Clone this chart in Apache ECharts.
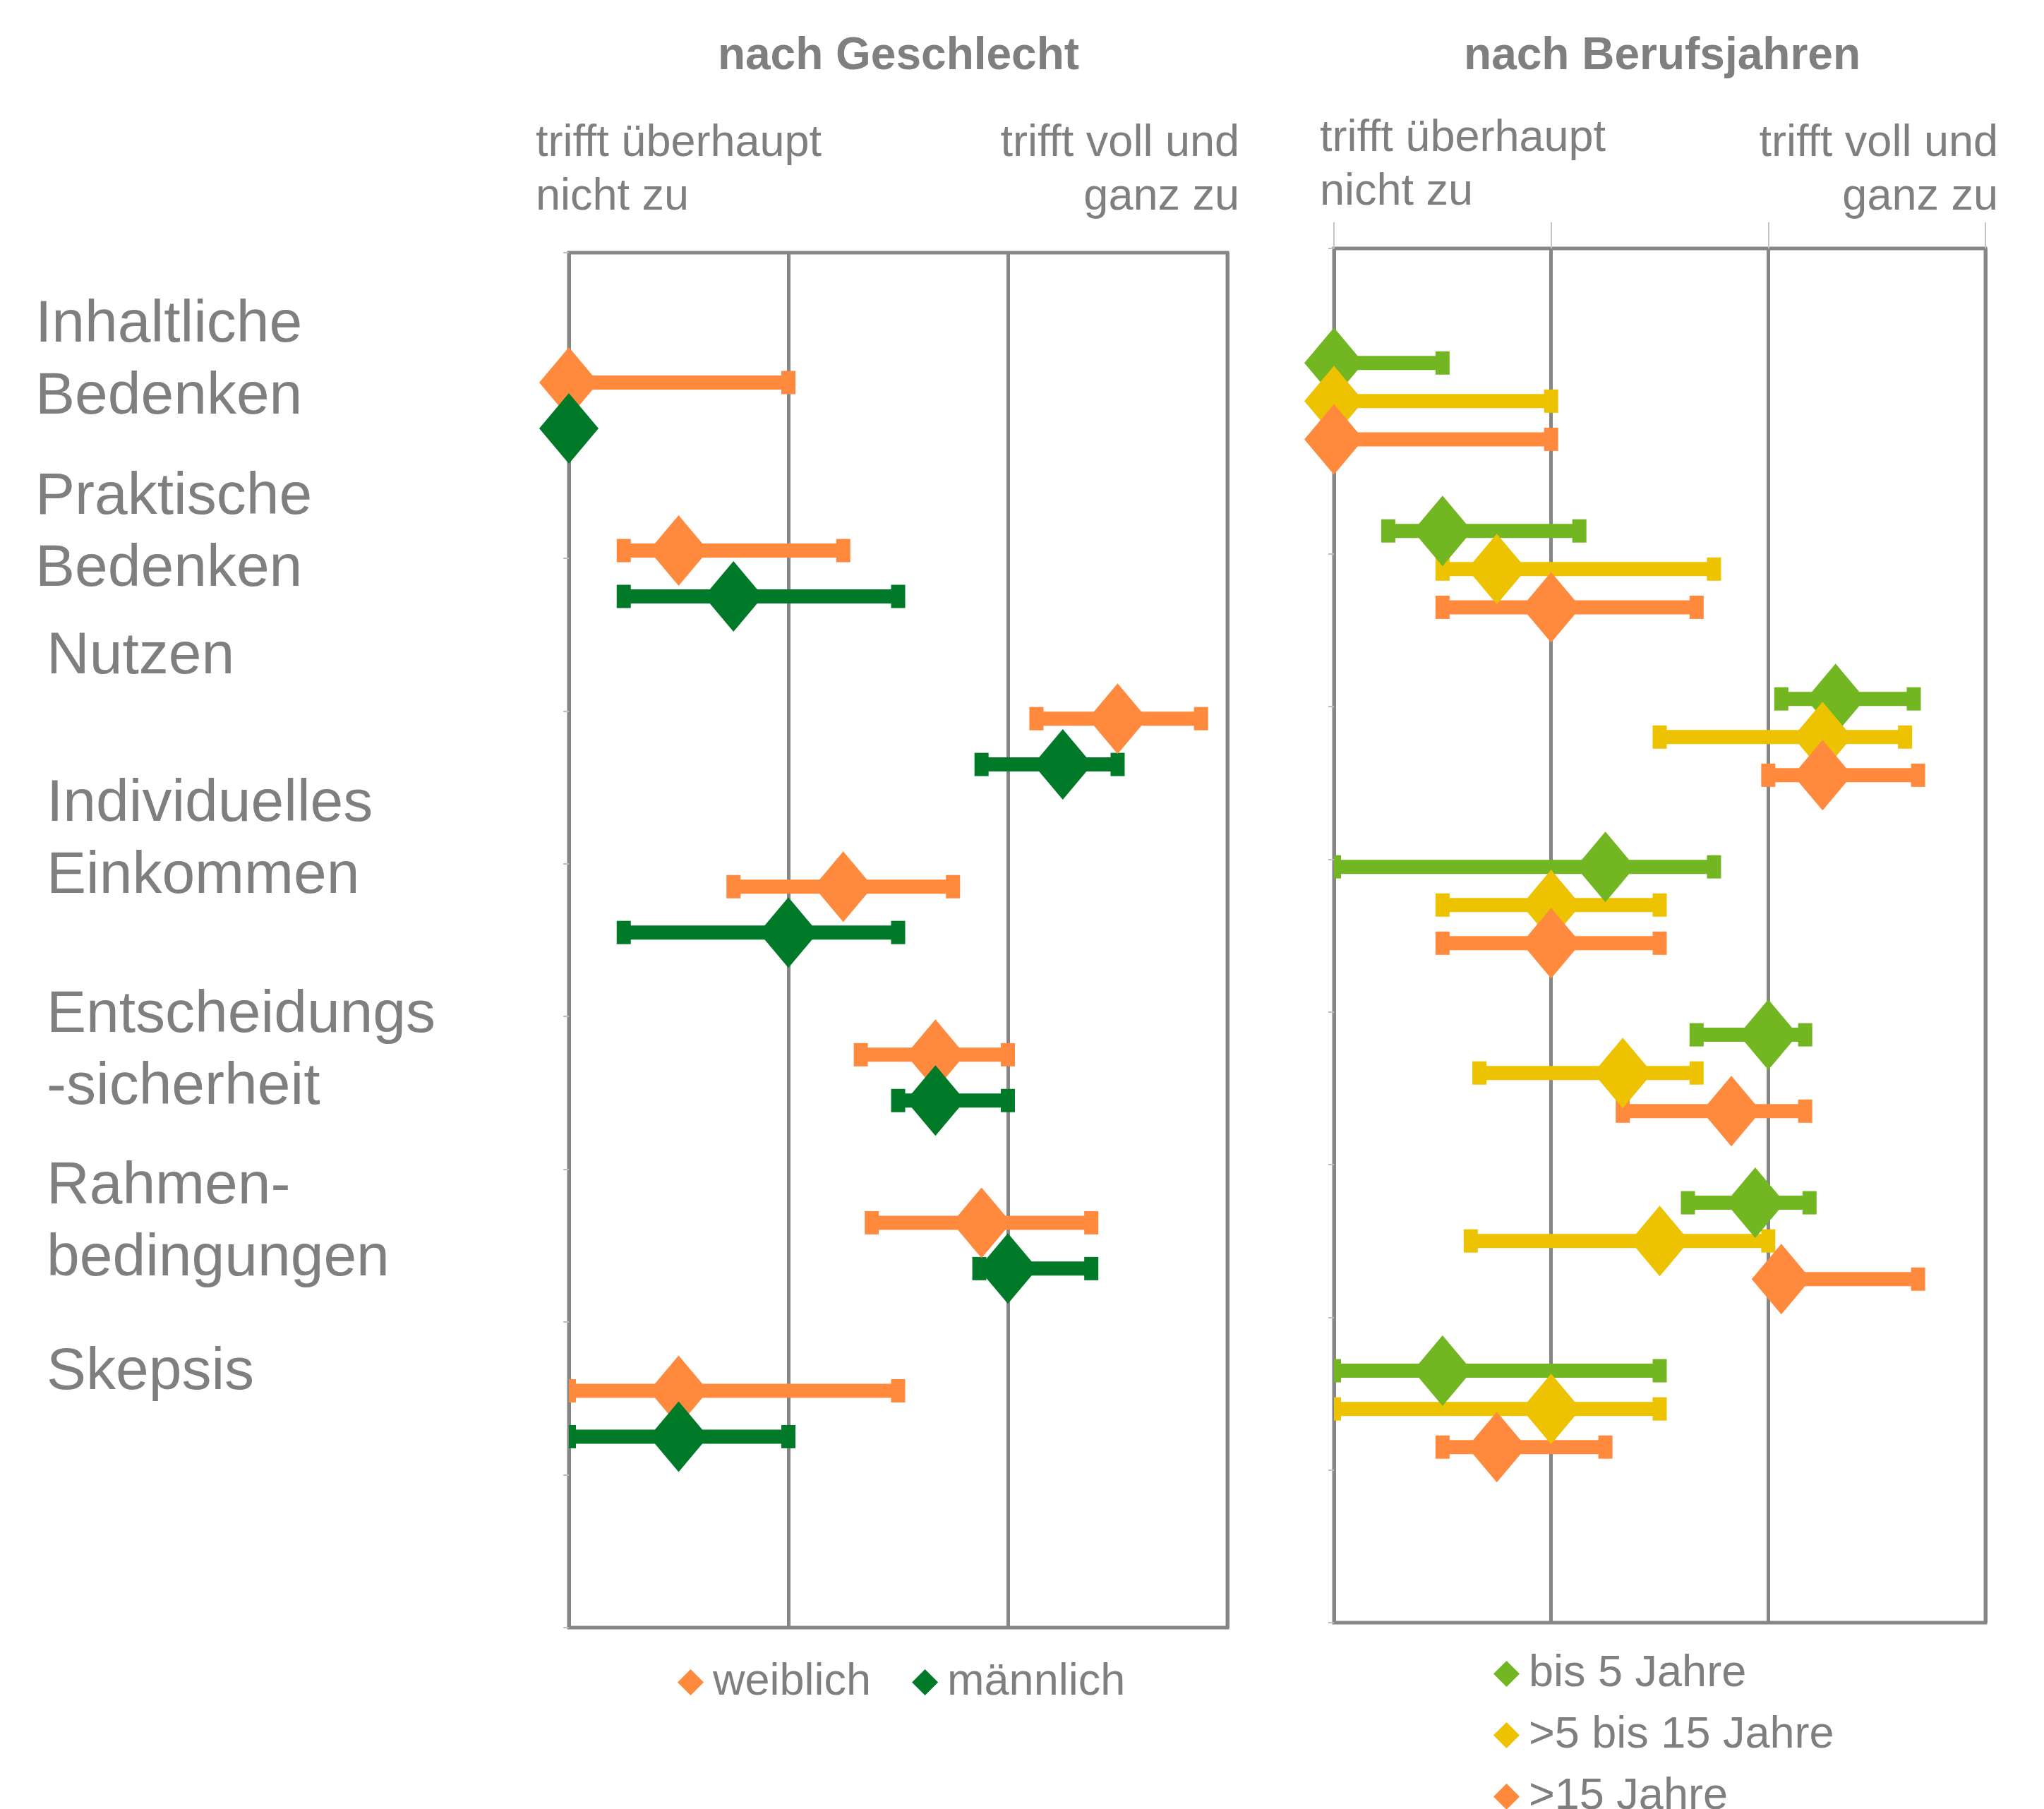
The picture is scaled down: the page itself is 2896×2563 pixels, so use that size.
<!DOCTYPE html>
<html><head><meta charset="utf-8">
<script src="https://cdn.jsdelivr.net/npm/echarts@6/dist/echarts.min.js"></script>
<style>html,body{margin:0;padding:0;background:#fff}#c{width:2896px;height:2563px}</style>
</head><body><div id="c"></div>
<script>
// ---------- data ----------
const categories = ['Inhaltliche\nBedenken','Praktische\nBedenken','Nutzen','Individuelles\nEinkommen','Entscheidungs\n-sicherheit','Rahmen-\nbedingungen','Skepsis'];
const panelTitles = ['nach Geschlecht','nach Berufsjahren'];
const scaleLow = 'trifft überhaupt\nnicht zu';
const scaleHigh = 'trifft voll und\nganz zu';
const scaleTicks = [1, 2, 3, 4];

const genderNames = ['weiblich','männlich'];
const weiblichMean = [1.00, 1.50, 3.50, 2.25, 2.67, 2.88, 1.50];
const weiblichLow  = [1.00, 1.25, 3.13, 1.75, 2.33, 2.38, 1.00];
const weiblichHigh = [2.00, 2.25, 3.88, 2.75, 3.00, 3.38, 2.50];
const maennlichMean = [1.00, 1.75, 3.25, 2.00, 2.67, 3.00, 1.50];
const maennlichLow  = [1.00, 1.25, 2.88, 1.25, 2.50, 2.87, 1.00];
const maennlichHigh = [1.00, 2.50, 3.50, 2.50, 3.00, 3.38, 2.00];

const berufNames = ['bis 5 Jahre','>5 bis 15 Jahre','>15 Jahre'];
const bis5Mean = [1.00, 1.50, 3.31, 2.25, 3.00, 2.94, 1.50];
const bis5Low  = [1.00, 1.25, 3.06, 1.00, 2.67, 2.63, 1.00];
const bis5High = [1.50, 2.13, 3.67, 2.75, 3.17, 3.19, 2.50];
const mid15Mean = [1.00, 1.75, 3.25, 2.00, 2.33, 2.50, 2.00];
const mid15Low  = [1.00, 1.50, 2.50, 1.50, 1.67, 1.63, 1.00];
const mid15High = [2.00, 2.75, 3.63, 2.50, 2.67, 3.00, 2.50];
const over15Mean = [1.00, 2.00, 3.25, 2.00, 2.83, 3.06, 1.75];
const over15Low  = [1.00, 1.50, 3.00, 1.50, 2.33, 3.06, 1.50];
const over15High = [2.00, 2.67, 3.69, 2.50, 3.17, 3.69, 2.25];

// ---------- styles ----------
const FONT = "'Liberation Sans', Arial, sans-serif";
const GRAY = '#7f7f7f';
const LINE = '#868686';
const ORANGE = '#FF8A3D', DKGREEN = '#007A28', LTGREEN = '#72B622', YELLOW = '#EDC200';
const genderColors = [ORANGE, DKGREEN];
const berufColors = [LTGREEN, YELLOW, ORANGE];

// row position on the (hidden) vertical value axis: group i, member k of n
function rowPos(i, k, n, step) { return 1 + 1.1 * i + (k - (n - 1) / 2) * step; }

function renderErr(params, api) {
  const yv = api.value(2);
  const lo = api.coord([api.value(0), yv]);
  const hi = api.coord([api.value(1), yv]);
  const color = api.visual('color');
  return { type: 'group', children: [
    { type: 'rect', shape: { x: lo[0], y: lo[1] - 10, width: hi[0] - lo[0], height: 20 }, style: { fill: color } },
    { type: 'rect', shape: { x: lo[0] - 10, y: lo[1] - 16.5, width: 20, height: 33 }, style: { fill: color } },
    { type: 'rect', shape: { x: hi[0] - 10, y: hi[1] - 16.5, width: 20, height: 33 }, style: { fill: color } }
  ]};
}

function makeSeries(name, color, mean, low, high, gi, k, n, step) {
  const yv = mean.map((_, i) => rowPos(i, k, n, step));
  return [
    { type: 'scatter', name, xAxisIndex: gi, yAxisIndex: gi, symbol: 'diamond', symbolSize: [84, 100],
      itemStyle: { color, opacity: 1 }, z: 3, silent: true, emphasis: { disabled: true },
      data: mean.map((m, i) => [m, yv[i]]) },
    { type: 'custom', name, xAxisIndex: gi, yAxisIndex: gi, clip: true, z: 2, silent: true,
      itemStyle: { color }, renderItem: renderErr, encode: { x: [0, 1], y: 2 },
      data: low.map((l, i) => [l, high[i], yv[i]]) }
  ];
}

const series = [].concat(
  makeSeries(genderNames[0], genderColors[0], weiblichMean, weiblichLow, weiblichHigh, 0, 0, 2, 0.3),
  makeSeries(genderNames[1], genderColors[1], maennlichMean, maennlichLow, maennlichHigh, 0, 1, 2, 0.3),
  makeSeries(berufNames[0], berufColors[0], bis5Mean, bis5Low, bis5High, 1, 0, 3, 0.25),
  makeSeries(berufNames[1], berufColors[1], mid15Mean, mid15Low, mid15High, 1, 1, 3, 0.25),
  makeSeries(berufNames[2], berufColors[2], over15Mean, over15Low, over15High, 1, 2, 3, 0.25)
);
// scatter diamonds: later series on top
let zc = 3;
series.forEach(s => { if (s.type === 'scatter') { s.z = zc++; } });

function xAxisFor(gi, pos, withTopTicks) {
  return { type: 'value', gridIndex: gi, min: scaleTicks[0], max: scaleTicks[scaleTicks.length - 1], interval: 1,
    position: pos,
    axisLine: { show: false }, axisLabel: { show: false },
    axisTick: { show: withTopTicks, length: 37, lineStyle: { color: '#c6c6c6', width: 2 } },
    splitLine: { show: true, lineStyle: { color: LINE, width: 5 } } };
}
function yAxisFor(gi) {
  return { type: 'value', gridIndex: gi, min: 0, max: 9, interval: 1, inverse: true,
    axisLine: { show: false }, axisLabel: { show: false },
    axisTick: { show: true, length: 8, lineStyle: { color: '#bdbdbd', width: 2 } },
    splitLine: { show: false } };
}

const graphic = [];
const labelPos = [[50, 410], [50, 654], [66, 880], [66, 1089], [66, 1388], [66, 1631], [66, 1894]];
categories.forEach((c, i) => graphic.push({ type: 'text', x: labelPos[i][0], y: labelPos[i][1], silent: true,
  style: { text: c, font: '84px ' + FONT, fill: GRAY, lineHeight: 102, align: 'left', verticalAlign: 'top' } }));
[[1273, panelTitles[0]], [2355, panelTitles[1]]].forEach(([x, t]) => graphic.push({ type: 'text', x, y: 80, silent: true,
  style: { text: t, font: 'bold 64px ' + FONT, fill: GRAY, align: 'center', verticalAlign: 'middle' } }));
[[759, 166, scaleLow, 'left'], [1756, 166, scaleHigh, 'right'], [1870, 159, scaleLow, 'left'], [2831, 166, scaleHigh, 'right']]
  .forEach(([x, y, t, a]) => graphic.push({ type: 'text', x, y, silent: true,
    style: { text: t, font: '63px ' + FONT, fill: GRAY, lineHeight: 76, align: a, verticalAlign: 'top' } }));

const legendText = { fontSize: 63, color: GRAY, fontFamily: FONT, lineHeight: 37, padding: [0, 0, 0, 8] };

const option = {
  animation: false,
  backgroundColor: '#ffffff',
  grid: [
    { left: 806, top: 358, width: 933, height: 1948, show: true, borderColor: LINE, borderWidth: 5, backgroundColor: 'transparent' },
    { left: 1890, top: 352, width: 923, height: 1947, show: true, borderColor: LINE, borderWidth: 5, backgroundColor: 'transparent' }
  ],
  xAxis: [ xAxisFor(0, 'bottom', false), xAxisFor(1, 'top', true) ],
  yAxis: [ yAxisFor(0), yAxisFor(1) ],
  legend: [
    { data: genderNames.map((n, i) => ({ name: n, icon: 'diamond', itemStyle: { color: genderColors[i] } })),
      orient: 'horizontal', left: 960, top: 2352, width: 1000, height: 80, itemWidth: 37, itemHeight: 37, itemGap: 58, padding: 0,
      selectedMode: false, textStyle: legendText },
    { data: berufNames.map((n, i) => ({ name: n, icon: 'diamond', itemStyle: { color: berufColors[i] } })),
      orient: 'vertical', left: 2116, top: 2340, width: 700, height: 400, itemWidth: 37, itemHeight: 37, itemGap: 24, padding: 0,
      selectedMode: false, textStyle: legendText }
  ],
  graphic,
  series
};

const chart = echarts.init(document.getElementById('c'), null, { renderer: 'canvas' });
chart.setOption(option);
</script>
</body></html>
